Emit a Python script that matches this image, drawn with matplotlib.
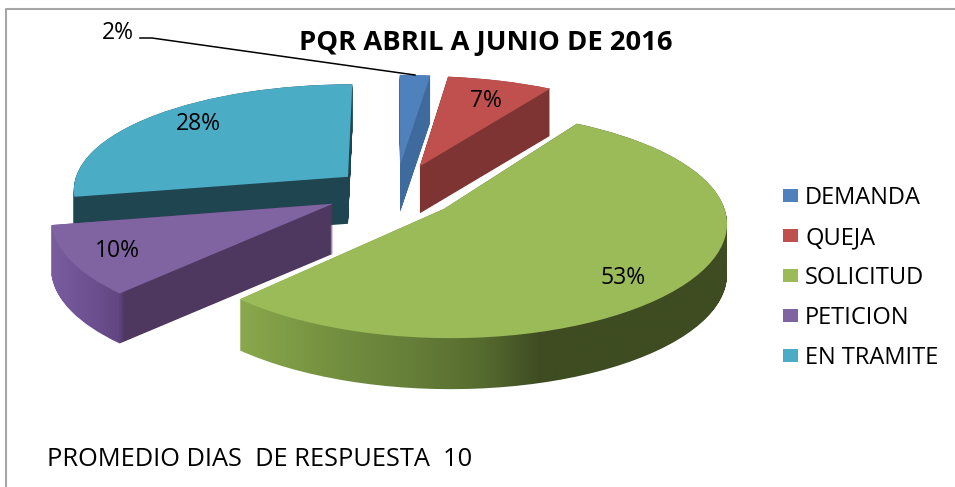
import numpy as np
import matplotlib
matplotlib.use("Agg")
import matplotlib.pyplot as plt
from matplotlib.path import Path
from matplotlib.patches import PathPatch
from matplotlib.transforms import Transform
from matplotlib.colors import LinearSegmentedColormap

categories = ["DEMANDA", "QUEJA", "SOLICITUD", "PETICION", "EN TRAMITE"]
values = [2, 7, 53, 10, 28]
title = "PQR ABRIL A JUNIO DE 2016"
note = "PROMEDIO DIAS  DE RESPUESTA  10"

# style / layout
top_colors = ["#4f81bd", "#c0504d", "#9bbb59", "#8064a2", "#4bacc6"]
side_colors = ["#3f6a9e", "#7d3432", "#5f7a35", "#4e3860", "#1f4650"]
explode = [0.25, 0.25, 0.235, 0.24, 0.21]
nudge_x = [4, 5, 0, 0, 0]
nudge_y = [0, 0, 2, 0, 0]
depths = [47, 47, 51, 50, 47]
label_px = [(118, 33), (486, 101), (623, 278), (117, 251), (198, 124)]
CX, CY, RX, RY, KX, KY = 392, 191, 276, 108, 0.11, 0.13


class Persp(Transform):
    input_dims = output_dims = 2
    is_separable = False
    has_inverse = False

    def __init__(self, z=0.0, dx=0.0):
        super().__init__()
        self.z = z
        self.dx = dx

    def transform_non_affine(self, xy):
        xy = np.asarray(xy, float)
        sx = 1.0 / (1.0 + KX * xy[:, 1])
        sy = 1.0 / (1.0 + KY * xy[:, 1])
        return np.column_stack([CX + self.dx + RX * xy[:, 0] * sx,
                                CY - RY * xy[:, 1] * sy + self.z])


plt.rcParams["font.family"] = ["Open Sans", "DejaVu Sans"]
fig = plt.figure(figsize=(9.55, 4.87), dpi=100, facecolor="white")
ax = fig.add_axes([0, 0, 1, 1])
wedges, _ = ax.pie(values, startangle=90, counterclock=False, explode=explode,
                   colors=top_colors, radius=1, wedgeprops={"linewidth": 0})
ax.set_aspect("auto")
ax.axis("off")

order = {0: 2, 1: 3, 2: 5, 3: 4, 4: 1}
gradients = {
    2: ([238, 340, 400, 480, 540, 730],
        ["#8aa84c", "#728e3f", "#68813a", "#566c2f", "#3f4c22", "#3f4c22"]),
    3: ([50, 118, 124, 340],
        ["#7b5da0", "#624784", "#4e3860", "#4e3860"]),
}
for i, w in enumerate(wedges):
    z0 = order[i] * 10
    base = w.get_path()
    layers = [Persp(nudge_y[i] + z, nudge_x[i]).transform_path(base)
              for z in np.arange(0, depths[i] + 1, 1.0)]
    compound = Path.make_compound_path(*layers)
    if i in gradients:
        xs, cols = gradients[i]
        lo, hi = min(xs), max(xs)
        cmap = LinearSegmentedColormap.from_list(
            "g", [((x - lo) / (hi - lo), c) for x, c in zip(xs, cols)])
        im = ax.imshow(np.linspace(0, 1, 512)[None, :], cmap=cmap, aspect="auto",
                       extent=(lo, hi, 480, 0), zorder=z0, interpolation="bilinear")
        im.set_clip_path(compound, ax.transData)
    else:
        ax.add_patch(PathPatch(compound, facecolor=side_colors[i], linewidth=0, zorder=z0))
    w.set_transform(Persp(nudge_y[i], nudge_x[i]) + ax.transData)
    w.set_zorder(z0 + 1)
ax.set_xlim(0, 955)
ax.set_ylim(487, 0)
ax.set_aspect("auto")

for v, (x, y) in zip(values, label_px):
    ax.text(x, y, f"{v}%", ha="center", va="center", fontsize=16.5, color="black", zorder=100)

ax.plot([140, 152, 415], [38, 38, 75], color="black", lw=1.1, zorder=99)
ax.text(486, 43, title, ha="center", va="center", fontsize=19.7, fontweight="bold", zorder=100)
ax.text(47, 459, note, ha="left", va="center", fontsize=18.3, zorder=100)
ax.plot([5.5, 5.5, 955], [487, 8.5, 8.5], color="#a6a6a6", lw=1.5, zorder=98)

leg = ax.legend(wedges, categories, loc="upper left", bbox_to_anchor=(783 / 955, 1 - 186 / 487),
                frameon=False, fontsize=17, handlelength=0.64, handleheight=0.5, handletextpad=0.3,
                labelspacing=0.675, borderpad=0, borderaxespad=0)
leg.set_zorder(100)

fig.savefig("out.png", dpi=100, facecolor="white")
